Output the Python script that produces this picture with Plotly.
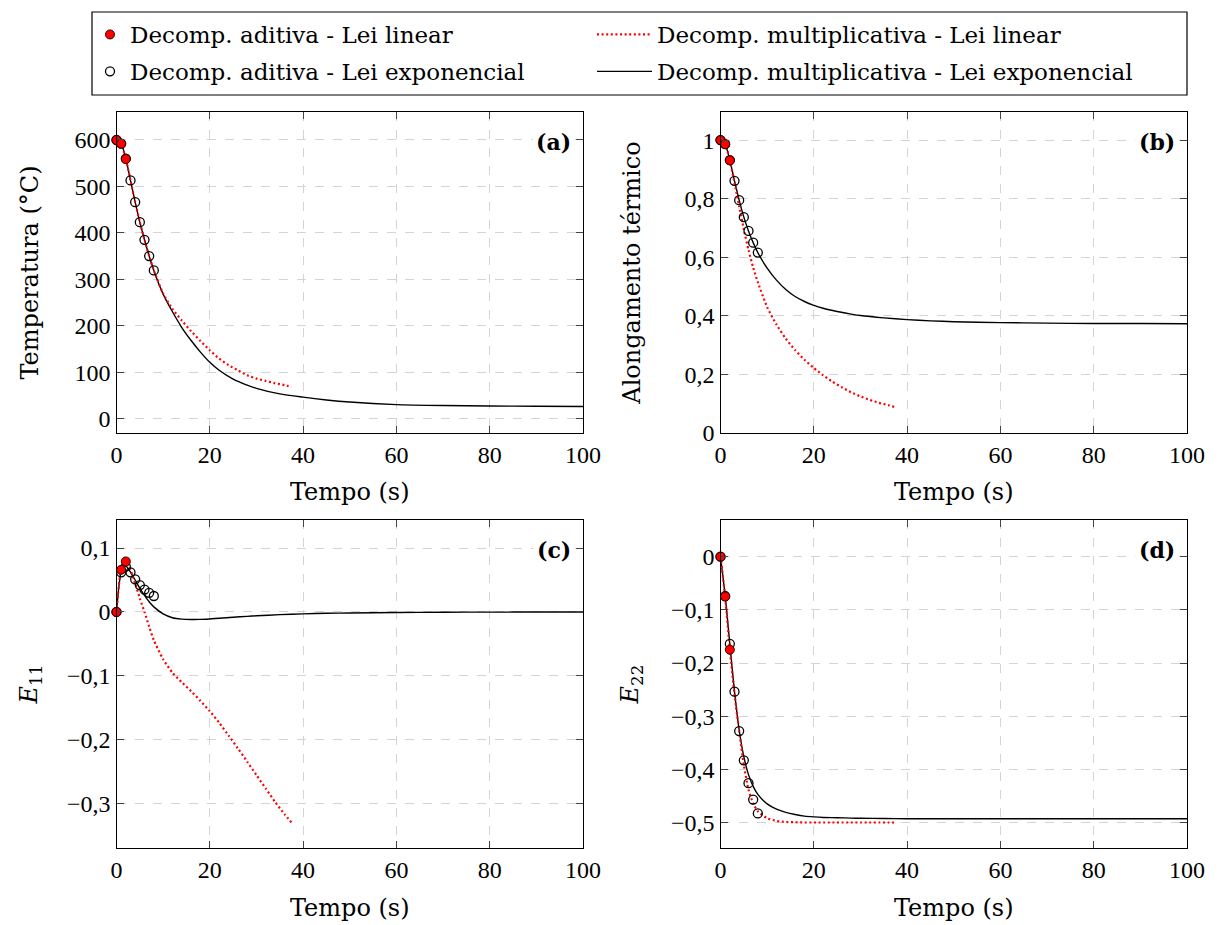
import plotly.graph_objects as go

W, H = 1221, 925

# ---------------- data ----------------
# additive decomposition, linear law (red dots)
t_add_lin = [0, 1, 2]
a_add_lin = [600, 592, 559]
b_add_lin = [1.0, 0.986, 0.931]
c_add_lin = [0.0, 0.066, 0.079]
d_add_lin = [0.0, -0.075, -0.175]

# additive decomposition, exponential law (open circles)
t_add_exp = [0, 1, 2, 3, 4, 5, 6, 7, 8]
a_add_exp = [600, 592, 560, 513, 466, 423, 385, 350, 319]
b_add_exp = [1.0, 0.986, 0.932, 0.861, 0.795, 0.737, 0.690, 0.650, 0.616]
c_add_exp = [0.0, 0.062, 0.071, 0.062, 0.051, 0.042, 0.035, 0.030, 0.025]
d_add_exp = [0.0, -0.074, -0.164, -0.254, -0.328, -0.383, -0.426, -0.457, -0.483]

# multiplicative decomposition, linear law (red dotted)
t_mul_lin = [0, 1, 2, 3, 4, 5, 6, 7, 8, 10, 12, 14, 16, 18, 20, 22, 24, 26, 28, 30, 32, 34, 36, 37.5]
a_mul_lin = [600, 592, 559, 513, 466, 423, 385, 350, 319, 269, 236, 211, 188, 167, 147, 129, 115, 104,
             93, 86, 81, 76, 72, 68]
b_mul_lin = [1.0, 0.986, 0.931, 0.855, 0.775, 0.695, 0.625, 0.565, 0.515, 0.430, 0.370, 0.322, 0.283,
             0.250, 0.222, 0.197, 0.175, 0.156, 0.139, 0.125, 0.113, 0.103, 0.095, 0.088]
c_mul_lin = [0.0, 0.068, 0.083, 0.066, 0.045, 0.021, 0.0, -0.023, -0.044, -0.074, -0.095, -0.110,
             -0.124, -0.139, -0.155, -0.173, -0.193, -0.213, -0.234, -0.255, -0.276, -0.297, -0.316, -0.329]
d_mul_lin = [0.0, -0.075, -0.175, -0.258, -0.328, -0.392, -0.438, -0.464, -0.479, -0.492, -0.497,
             -0.499, -0.4995, -0.5, -0.5, -0.5, -0.5, -0.5, -0.5, -0.5, -0.5, -0.5, -0.5, -0.5]

# multiplicative decomposition, exponential law (black solid)
t_mul_exp = [0, 1, 2, 3, 4, 5, 6, 7, 8, 10, 12, 14, 16, 18, 20, 22, 25, 28, 30, 35, 40, 45, 50, 60,
             70, 80, 90, 100]
a_mul_exp = [600, 592, 560, 513, 466, 423, 385, 350, 319, 268, 230, 196, 168, 143, 121, 104, 85, 72, 65,
             53, 46, 40, 35.5, 30, 28, 27, 26.5, 26]
b_mul_exp = [1.0, 0.986, 0.931, 0.861, 0.795, 0.737, 0.690, 0.650, 0.616, 0.563, 0.522, 0.490, 0.466,
             0.449, 0.436, 0.426, 0.415, 0.406, 0.401, 0.393, 0.387, 0.383, 0.380, 0.377, 0.375, 0.374,
             0.374, 0.373]
c_mul_exp = [0.0, 0.062, 0.072, 0.062, 0.050, 0.037, 0.026, 0.016, 0.008, -0.003, -0.009, -0.0112,
             -0.0118, -0.0115, -0.011, -0.0098, -0.0083, -0.0068, -0.006, -0.0042, -0.003, -0.002,
             -0.0015, -0.0008, -0.0004, -0.0002, -0.0001, 0.0]
d_mul_exp = [0.0, -0.074, -0.164, -0.254, -0.326, -0.376, -0.410, -0.432, -0.447, -0.465, -0.475,
             -0.481, -0.485, -0.488, -0.4895, -0.4905, -0.491, -0.4918, -0.492, -0.4925, -0.493, -0.493,
             -0.493, -0.493, -0.493, -0.493, -0.493, -0.493]

x_ticks = [0, 20, 40, 60, 80, 100]
a_ticks = [0, 100, 200, 300, 400, 500, 600]
b_ticks = [0, 0.2, 0.4, 0.6, 0.8, 1.0]
b_ticklabels = ["0", "0,2", "0,4", "0,6", "0,8", "1"]
c_ticks = [-0.3, -0.2, -0.1, 0, 0.1]
c_ticklabels = ["\u22120,3", "\u22120,2", "\u22120,1", "0", "0,1"]
d_ticks = [-0.5, -0.4, -0.3, -0.2, -0.1, 0]
d_ticklabels = ["\u22120,5", "\u22120,4", "\u22120,3", "\u22120,2", "\u22120,1", "0"]

names = ["Decomp. aditiva - Lei linear", "Decomp. aditiva - Lei exponencial",
         "Decomp. multiplicativa - Lei linear", "Decomp. multiplicativa - Lei exponencial"]

TICKFONT = "Liberation Serif"
TEXTFONT = "DejaVu Serif"
RED = "#ff0000"

fig = go.Figure()

panels = [
    ("x", "y", a_add_lin, a_add_exp, a_mul_lin, a_mul_exp),
    ("x2", "y2", b_add_lin, b_add_exp, b_mul_lin, b_mul_exp),
    ("x3", "y3", c_add_lin, c_add_exp, c_mul_lin, c_mul_exp),
    ("x4", "y4", d_add_lin, d_add_exp, d_mul_lin, d_mul_exp),
]

for i, (xa, ya, addl, adde, mull, mule) in enumerate(panels):
    show = i == 0
    fig.add_trace(go.Scatter(x=t_mul_exp, y=mule, mode="lines", xaxis=xa, yaxis=ya,
                             line=dict(color="black", width=1.4, shape="spline", smoothing=0.6),
                             name=names[3], showlegend=show, legend="legend2",
                             legendgroup="g4", legendrank=2))
    fig.add_trace(go.Scatter(x=t_mul_lin, y=mull, mode="lines", xaxis=xa, yaxis=ya,
                             line=dict(color=RED, width=2.2, dash="2px,2.6px", shape="spline", smoothing=0.6),
                             name=names[2], showlegend=show, legend="legend2",
                             legendgroup="g3", legendrank=1))
    fig.add_trace(go.Scatter(x=t_add_exp, y=adde, mode="markers", xaxis=xa, yaxis=ya, cliponaxis=False,
                             marker=dict(symbol="circle-open", size=9, color="black", line=dict(width=1.3)),
                             name=names[1], showlegend=show, legend="legend",
                             legendgroup="g2", legendrank=2))
    fig.add_trace(go.Scatter(x=t_add_lin, y=addl, mode="markers", xaxis=xa, yaxis=ya, cliponaxis=False,
                             marker=dict(symbol="circle", size=9, color=RED, line=dict(width=1, color="#300")),
                             name=names[0], showlegend=show, legend="legend",
                             legendgroup="g1", legendrank=1))

def px_x(p):
    return p / W

def px_y(p):
    return 1 - p / H

axis_common = dict(showline=True, linecolor="black", linewidth=1.2, mirror="ticks", ticks="inside",
                   ticklen=7, tickcolor="#444", tickwidth=1, showgrid=True, gridcolor="#d4d4d4",
                   griddash="dash", gridwidth=1, zeroline=False, automargin=False,
                   tickfont=dict(family=TICKFONT, size=24, color="black"))

title_font = dict(family=TEXTFONT, size=24, color="black")

xl = [px_x(116.5), px_x(583)]
xr = [px_x(720.5), px_x(1187)]
yt = [px_y(433), px_y(112)]
yb = [px_y(848), px_y(520)]

def xaxis(dom, anchor, standoff):
    return dict(axis_common, domain=dom, anchor=anchor, range=[0, 100], tickvals=x_ticks,
                title=dict(text="Tempo (s)", font=title_font, standoff=standoff))

fig.update_layout(
    width=W, height=H,
    margin=dict(l=0, r=0, t=0, b=0),
    paper_bgcolor="white", plot_bgcolor="white",
    font=dict(family=TEXTFONT, color="black"),
    xaxis=xaxis(xl, "y", 16),
    xaxis2=xaxis(xr, "y2", 16),
    xaxis3=xaxis(xl, "y3", 17),
    xaxis4=xaxis(xr, "y4", 17),
    yaxis=dict(axis_common, domain=yt, anchor="x", range=[-31.2, 660.3], tickvals=a_ticks,
               title=dict(text="Temperatura (\u00b0C)", font=title_font, standoff=29)),
    yaxis2=dict(axis_common, domain=yt, anchor="x2", range=[0, 1.096], tickvals=b_ticks,
                ticktext=b_ticklabels,
                title=dict(text="Alongamento t\u00e9rmico", font=title_font, standoff=37)),
    yaxis3=dict(axis_common, domain=yb, anchor="x3", range=[-0.369, 0.1438], tickvals=c_ticks,
                ticktext=c_ticklabels,
                title=dict(text="<i>E</i><sub>11</sub>", font=title_font, standoff=22)),
    yaxis4=dict(axis_common, domain=yb, anchor="x4", range=[-0.548, 0.069], tickvals=d_ticks,
                ticktext=d_ticklabels,
                title=dict(text="<i>E</i><sub>22</sub>", font=title_font, standoff=25)),
    legend=dict(x=px_x(90), y=px_y(13), xanchor="left", yanchor="top", orientation="v",
                bgcolor="rgba(0,0,0,0)", borderwidth=0, tracegroupgap=4,
                font=dict(family=TEXTFONT, size=23, color="black")),
    legend2=dict(x=px_x(592), y=px_y(13), xanchor="left", yanchor="top", orientation="v",
                 bgcolor="rgba(0,0,0,0)", borderwidth=0, tracegroupgap=4, itemwidth=55,
                 font=dict(family=TEXTFONT, size=23, color="black")),
    shapes=[dict(type="rect", xref="paper", yref="paper", x0=px_x(92), x1=px_x(1187),
                 y0=px_y(95), y1=px_y(12), line=dict(color="black", width=1.2), fillcolor="rgba(0,0,0,0)")],
)

labels = [("(a)", "x", "y"), ("(b)", "x2", "y2"), ("(c)", "x3", "y3"), ("(d)", "x4", "y4")]
for txt, xa, ya in labels:
    fig.add_annotation(text="<b>%s</b>" % txt, xref=xa + " domain", yref=ya + " domain", x=1, y=1,
                       xanchor="right", yanchor="top", xshift=-8, yshift=-13, showarrow=False,
                       bgcolor="white", borderpad=3, font=dict(family=TEXTFONT, size=22, color="black"))

fig.write_html("out.html")
